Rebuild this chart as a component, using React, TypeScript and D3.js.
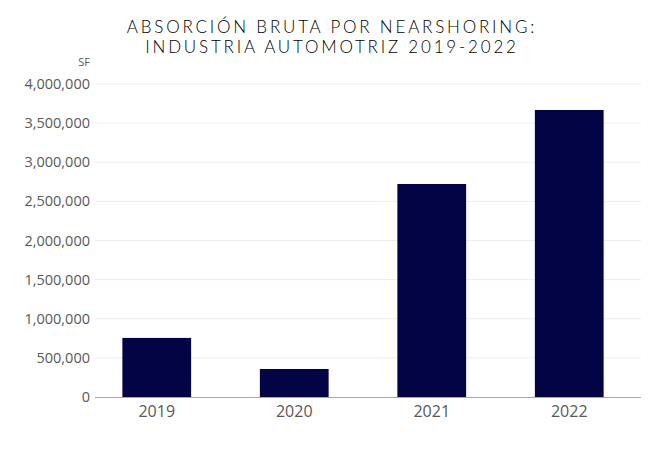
import React, { useRef, useEffect } from "react";
import * as d3 from "d3";

const years = ["2019", "2020", "2021", "2022"];
const absorption = [755000, 358000, 2722000, 3668000];
const yTicks = [0, 500000, 1000000, 1500000, 2000000, 2500000, 3000000, 3500000, 4000000];
const titleLines = ["ABSORCIÓN BRUTA POR NEARSHORING:", "INDUSTRIA AUTOMOTRIZ 2019-2022"];
const unitLabel = "SF";

const App = () => {
  const ref = useRef<SVGSVGElement>(null);

  useEffect(() => {
    const svg = d3.select(ref.current);
    svg.selectAll("*").remove();

    const width = 664;
    const gridLeft = 95;
    const gridRight = 641;

    const x = d3
      .scaleBand()
      .domain(years)
      .range([88, 638])
      .paddingInner(0.5)
      .paddingOuter(0.25);
    const y = d3.scaleLinear().domain([0, 4000000]).range([397, 84]);

    // title
    svg
      .append("g")
      .selectAll("text")
      .data(titleLines)
      .join("text")
      .attr("x", width / 2)
      .attr("y", (d, i) => 33 + i * 20)
      .attr("text-anchor", "middle")
      .attr("font-family", "Lato, 'Open Sans', sans-serif")
      .attr("font-weight", 300)
      .attr("font-size", 17)
      .attr("letter-spacing", 2.8)
      .attr("fill", "#000")
      .text((d) => d);

    // gridlines
    svg
      .append("g")
      .selectAll("line")
      .data(yTicks.filter((t) => t > 0))
      .join("line")
      .attr("x1", gridLeft)
      .attr("x2", gridRight)
      .attr("y1", (d) => y(d))
      .attr("y2", (d) => y(d))
      .attr("stroke", "#ececec")
      .attr("stroke-width", 1);

    // y labels
    svg
      .append("g")
      .selectAll("text")
      .data(yTicks)
      .join("text")
      .attr("x", 90)
      .attr("y", (d) => y(d))
      .attr("dy", "0.35em")
      .attr("text-anchor", "end")
      .attr("font-family", "'Open Sans', sans-serif")
      .attr("font-size", 14.5)
      .attr("fill", "#595959")
      .text((d) => d3.format(",")(d));

    svg
      .append("text")
      .attr("x", 90)
      .attr("y", 66)
      .attr("text-anchor", "end")
      .attr("font-family", "'Open Sans', sans-serif")
      .attr("font-size", 11)
      .attr("fill", "#595959")
      .text(unitLabel);

    // bars
    svg
      .append("g")
      .selectAll("rect")
      .data(absorption)
      .join("rect")
      .attr("x", (d, i) => x(years[i]))
      .attr("width", x.bandwidth())
      .attr("y", (d) => y(d))
      .attr("height", (d) => y(0) - y(d))
      .attr("fill", "#020445");

    // x axis
    svg
      .append("line")
      .attr("x1", gridLeft)
      .attr("x2", gridRight)
      .attr("y1", y(0) + 0.5)
      .attr("y2", y(0) + 0.5)
      .attr("stroke", "#a6a6a6");

    svg
      .append("g")
      .selectAll("text")
      .data(years)
      .join("text")
      .attr("x", (d) => x(d) + x.bandwidth() / 2)
      .attr("y", 417)
      .attr("text-anchor", "middle")
      .attr("font-family", "'Open Sans', sans-serif")
      .attr("font-size", 16)
      .attr("fill", "#595959")
      .text((d) => d);
  }, []);

  return (
    <svg
      ref={ref}
      width={664}
      height={454}
      style={{ position: "absolute", left: 0, top: 0, background: "#fff" }}
    ></svg>
  );
};

export default App;
